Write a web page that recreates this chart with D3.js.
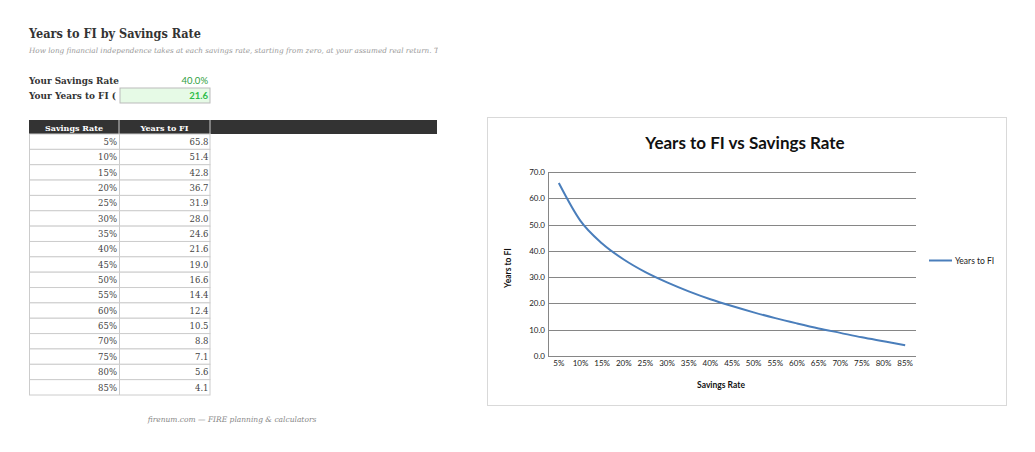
<!DOCTYPE html>
<html>
<head>
<meta charset="utf-8">
<script src="https://cdn.jsdelivr.net/npm/d3@7"></script>
<style>
  body { margin: 0; background: #fff; }
  svg { display: block; }
</style>
</head>
<body>
<svg id="page" width="1035" height="452"></svg>
<script>
const rates = [5, 10, 15, 20, 25, 30, 35, 40, 45, 50, 55, 60, 65, 70, 75, 80, 85];
const years = [65.8, 51.4, 42.8, 36.7, 31.9, 28.0, 24.6, 21.6, 19.0, 16.6, 14.4, 12.4, 10.5, 8.8, 7.1, 5.6, 4.1];
const yTicks = [0, 10, 20, 30, 40, 50, 60, 70];
const userRate = 40.0;
const userYears = 21.6;

const serif = "'DejaVu Serif', serif";
const sans = "Lato, 'Open Sans', sans-serif";

const svg = d3.select("#page");

// ---- left side: sheet ----
svg.append("text").attr("x", 29).attr("y", 38)
  .attr("font-family", serif).attr("font-weight", 700).attr("font-size", 12.5)
  .attr("textLength", 172).attr("lengthAdjust", "spacingAndGlyphs")
  .attr("fill", "#333").text("Years to FI by Savings Rate");

svg.append("defs").append("clipPath").attr("id", "subclip")
  .append("rect").attr("x", 0).attr("y", 40).attr("width", 438).attr("height", 20);

svg.append("text").attr("x", 29).attr("y", 53)
  .attr("clip-path", "url(#subclip)")
  .attr("font-family", serif).attr("font-style", "italic").attr("font-size", 7.25)
  .attr("fill", "#999")
  .text("How long financial independence takes at each savings rate, starting from zero, at your assumed real return. This is a simplified model.");

svg.append("text").attr("x", 29).attr("y", 84)
  .attr("font-family", serif).attr("font-weight", 700).attr("font-size", 9.5)
  .attr("textLength", 90).attr("lengthAdjust", "spacingAndGlyphs")
  .attr("fill", "#333").text("Your Savings Rate");
svg.append("text").attr("x", 208).attr("y", 84).attr("text-anchor", "end")
  .attr("font-family", sans).attr("font-size", 9.5)
  .attr("fill", "#2e9e3e").text(userRate.toFixed(1) + "%");

svg.append("text").attr("x", 29).attr("y", 99)
  .attr("font-family", serif).attr("font-weight", 700).attr("font-size", 9.5)
  .attr("textLength", 87).attr("lengthAdjust", "spacingAndGlyphs")
  .attr("fill", "#333").text("Your Years to FI (");
svg.append("rect").attr("x", 120).attr("y", 88).attr("width", 90).attr("height", 15)
  .attr("fill", "#e6fae6").attr("stroke", "#bbb");
svg.append("text").attr("x", 208).attr("y", 99).attr("text-anchor", "end")
  .attr("font-family", sans).attr("font-weight", 700).attr("font-size", 9.5)
  .attr("fill", "#2ebd4a").text(userYears.toFixed(1));

// table
const rowY = d3.scaleBand().domain(rates).range([134, 395]);
const tbl = svg.append("g");

tbl.append("rect").attr("x", 29).attr("y", 120).attr("width", 408).attr("height", 14).attr("fill", "#333");
[119, 210].forEach(x => tbl.append("line").attr("x1", x).attr("x2", x).attr("y1", 120).attr("y2", 134)
  .attr("stroke", "#ccc").attr("stroke-width", 1));
[["Savings Rate", 74, 58], ["Years to FI", 164.5, 48]].forEach(([t, x, w]) => {
  tbl.append("text").attr("x", x).attr("y", 130.5).attr("text-anchor", "middle")
    .attr("font-family", serif).attr("font-weight", 700).attr("font-size", 8)
    .attr("textLength", w).attr("lengthAdjust", "spacingAndGlyphs")
    .attr("fill", "#fff").text(t);
});

const rows = tbl.selectAll("g.row").data(rates.map((r, i) => ({ r, y: years[i] })))
  .enter().append("g").attr("class", "row")
  .attr("transform", d => `translate(0,${rowY(d.r)})`);

rows.append("rect").attr("x", 29.5).attr("y", 0).attr("width", 180.5).attr("height", rowY.bandwidth())
  .attr("fill", "#fff").attr("stroke", "#ccc");
rows.append("line").attr("x1", 119.5).attr("x2", 119.5).attr("y1", 0).attr("y2", rowY.bandwidth())
  .attr("stroke", "#ccc");
rows.append("text").attr("x", 117).attr("y", rowY.bandwidth() / 2 + 3.2).attr("text-anchor", "end")
  .attr("font-family", serif).attr("font-size", 8.5).attr("font-weight", 300).attr("fill", "#444")
  .text(d => d.r + "%");
rows.append("text").attr("x", 208.5).attr("y", rowY.bandwidth() / 2 + 3.2).attr("text-anchor", "end")
  .attr("font-family", serif).attr("font-size", 8.5).attr("font-weight", 300).attr("fill", "#444")
  .text(d => d.y.toFixed(1));

svg.append("text").attr("x", 232).attr("y", 422).attr("text-anchor", "middle")
  .attr("font-family", serif).attr("font-style", "italic").attr("font-size", 7.5)
  .attr("fill", "#888").text("firenum.com — FIRE planning & calculators");

// ---- right side: chart ----
svg.append("rect").attr("x", 487.5).attr("y", 117.5).attr("width", 519).attr("height", 288)
  .attr("fill", "#fff").attr("stroke", "#d9d9d9");

svg.append("text").attr("x", 745).attr("y", 149).attr("text-anchor", "middle")
  .attr("font-family", sans).attr("font-weight", 700).attr("font-size", 17)
  .attr("fill", "#111").text("Years to FI vs Savings Rate");

const x = d3.scaleBand().domain(rates).range([548, 916]);
const y = d3.scaleLinear().domain([0, 70]).range([356, 172]);

const grid = svg.append("g");
grid.selectAll("line").data(yTicks).enter().append("line")
  .attr("x1", 548).attr("x2", 916)
  .attr("y1", d => Math.round(y(d)) + 0.5).attr("y2", d => Math.round(y(d)) + 0.5)
  .attr("stroke", "#868686").attr("stroke-width", 1);
grid.append("line").attr("x1", 548.5).attr("x2", 548.5).attr("y1", y(70)).attr("y2", y(0))
  .attr("stroke", "#868686");

const yAxis = svg.append("g").attr("transform", "translate(548,0)")
  .call(d3.axisLeft(y).tickValues(yTicks).tickSize(0).tickPadding(3).tickFormat(d3.format(".1f")));
yAxis.select(".domain").remove();
yAxis.selectAll("text").attr("font-family", sans).attr("font-size", 8).attr("fill", "#222");

const xAxis = svg.append("g").attr("transform", "translate(0,356)")
  .call(d3.axisBottom(x).tickSize(0).tickPadding(4).tickFormat(d => d + "%"));
xAxis.select(".domain").remove();
xAxis.selectAll("text").attr("font-family", sans).attr("font-size", 8).attr("fill", "#222");

const line = d3.line()
  .x((d, i) => x(rates[i]) + x.bandwidth() / 2)
  .y(d => y(d))
  .curve(d3.curveMonotoneX);

svg.append("path").datum(years).attr("d", line)
  .attr("fill", "none").attr("stroke", "#4a7ebb").attr("stroke-width", 2);

svg.append("text").attr("transform", "translate(511,268) rotate(-90)").attr("text-anchor", "middle")
  .attr("font-family", sans).attr("font-weight", 700).attr("font-size", 8.5)
  .attr("fill", "#111").text("Years to FI");

svg.append("text").attr("x", 721).attr("y", 388).attr("text-anchor", "middle")
  .attr("font-family", sans).attr("font-weight", 700).attr("font-size", 8.5)
  .attr("fill", "#111").text("Savings Rate");

// legend
svg.append("line").attr("x1", 929).attr("x2", 952).attr("y1", 260.5).attr("y2", 260.5)
  .attr("stroke", "#4a7ebb").attr("stroke-width", 2);
svg.append("text").attr("x", 955).attr("y", 263.5)
  .attr("font-family", sans).attr("font-size", 8.5).attr("fill", "#222").text("Years to FI");
</script>
</body>
</html>
